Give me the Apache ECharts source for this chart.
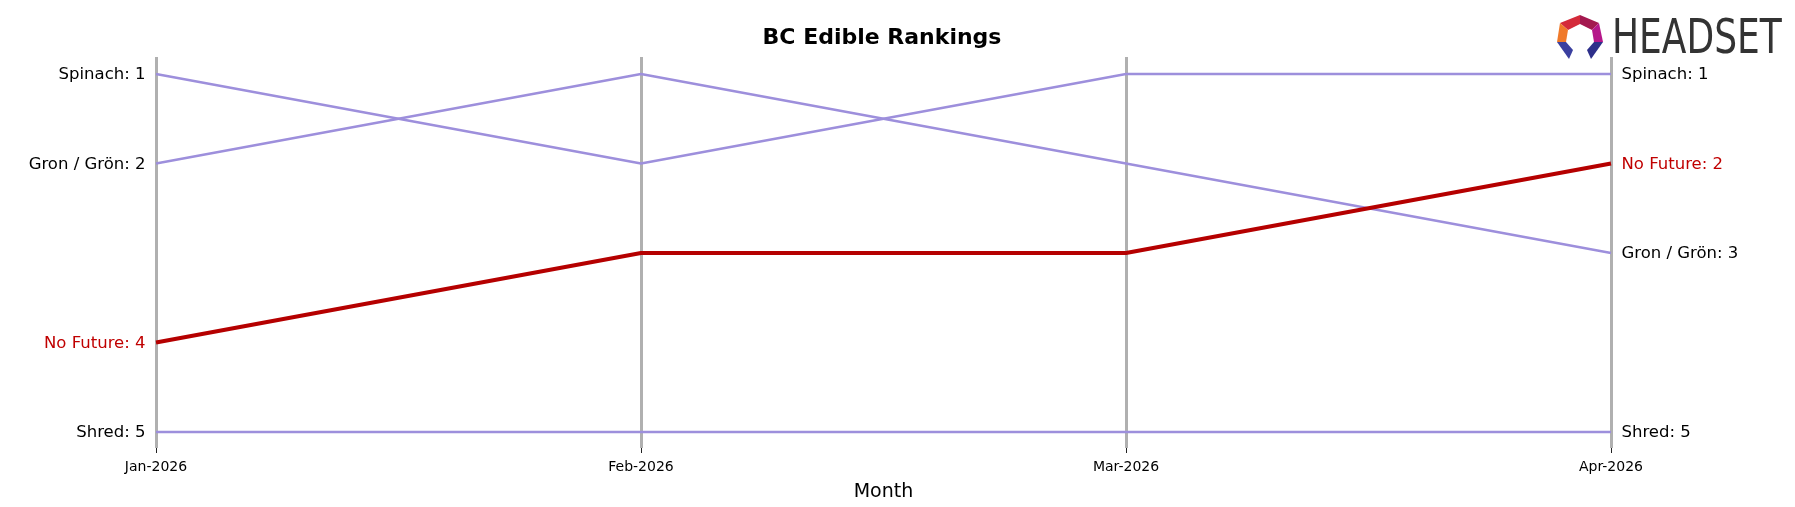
<!DOCTYPE html>
<html>
<head>
<meta charset="utf-8">
<script src="https://cdn.jsdelivr.net/npm/echarts@6/dist/echarts.min.js"></script>
<style>html,body{margin:0;padding:0;background:#fff}#c{width:1795px;height:507px}</style>
</head>
<body>
<div id="c"></div>
<script>
const months = ['Jan-2026', 'Feb-2026', 'Mar-2026', 'Apr-2026'];
const spinach = [1, 2, 1, 1];
const gron = [2, 1, 2, 3];
const noFuture = [4, 3, 3, 2];
const shred = [5, 5, 5, 5];
const seriesNames = ['Spinach', 'Gron / Grön', 'Shred', 'No Future'];
const seriesData = [spinach, gron, shred, noFuture];
const highlight = 'No Future';

const FONT = 'DejaVu Sans';
const purple = '#9d8fdc';
const red = '#b50000';
const redText = '#c00000';

function buildSeries(name, vals) {
  const hl = name === highlight;
  const last = vals.length - 1;
  return {
    name: name,
    type: 'line',
    symbol: 'circle',
    symbolSize: 1,
    showSymbol: true,
    clip: false,
    itemStyle: { color: 'rgba(0,0,0,0)', borderWidth: 0 },
    z: hl ? 5 : 3,
    lineStyle: { color: hl ? red : purple, width: hl ? 4 : 2.4 },
    data: vals.map((v, i) => ({
      value: v,
      label: {
        show: i === 0 || i === last,
        position: i === 0 ? 'left' : 'right',
        distance: 10,
        offset: [0, 1],
        formatter: name + ': ' + v,
        color: hl ? redText : '#000',
        fontFamily: FONT,
        fontSize: 16.5
      }
    }))
  };
}

const chart = echarts.init(document.getElementById('c'));
chart.setOption({
  backgroundColor: '#fff',
  animation: false,
  title: {
    text: 'BC Edible Rankings',
    left: 877, top: 22, textAlign: 'center',
    textStyle: { fontFamily: FONT, fontWeight: 'bold', fontSize: 22, color: '#000' }
  },
  grid: { left: 156, right: 184, top: 57, bottom: 59 },
  xAxis: {
    type: 'category',
    data: months,
    boundaryGap: false,
    name: 'Month',
    nameLocation: 'middle',
    nameGap: 35,
    nameTextStyle: { fontFamily: FONT, fontSize: 19, color: '#000' },
    axisLine: { show: false },
    axisTick: { show: true, length: 5, lineStyle: { color: '#222', width: 1 } },
    axisLabel: { fontFamily: FONT, fontSize: 14, color: '#000', margin: 12 },
    splitLine: { show: true, lineStyle: { color: '#b0b0b0', width: 3 } }
  },
  yAxis: {
    type: 'value',
    inverse: true,
    min: 0.81,
    max: 5.178,
    show: false,
    splitLine: { show: false }
  },
  series: seriesNames.map((n, k) => buildSeries(n, seriesData[k])),
  graphic: [
    { type: 'polygon', shape: { points: [[1580,15],[1580,24],[1568,30],[1560,23]] }, style: { fill: '#d42a3a' } },
    { type: 'polygon', shape: { points: [[1580,15],[1599,23],[1592,30],[1580,24]] }, style: { fill: '#a3194f' } },
    { type: 'polygon', shape: { points: [[1560,23],[1568,30],[1566,42],[1557,42]] }, style: { fill: '#f07a2a' } },
    { type: 'polygon', shape: { points: [[1599,23],[1603,42],[1594,42],[1592,30]] }, style: { fill: '#b5178a' } },
    { type: 'polygon', shape: { points: [[1557,42],[1566,42],[1573,50],[1569,59]] }, style: { fill: '#3a3f9f' } },
    { type: 'polygon', shape: { points: [[1594,42],[1603,42],[1591,59],[1587,50]] }, style: { fill: '#2d2f8a' } },
    { type: 'text', x: 1612, y: 17, scaleX: 0.75,
      style: { text: 'HEADSET', fill: '#333', fontFamily: FONT, fontSize: 48, fontWeight: 'normal' } }
  ]
});
</script>
</body>
</html>
